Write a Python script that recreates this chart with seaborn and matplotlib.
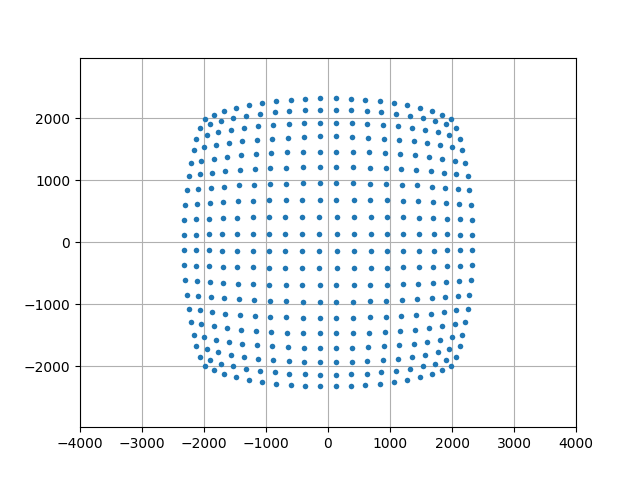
import matplotlib
matplotlib.use("Agg")
import matplotlib.pyplot as plt
import seaborn as sns
import numpy as np
import pandas as pd

# Top-right quadrant of the distorted 20x20 grid.
# Row i (1..10, from the centre upwards), column j (1..10, from the centre rightwards).
xq = [
    [138, 415, 690, 957, 1215, 1466, 1709, 1927, 2137, 2323],
    [138, 415, 688, 955, 1213, 1462, 1700, 1922, 2129, 2315],
    [137, 412, 684, 949, 1207, 1455, 1692, 1911, 2117, 2299],
    [136, 408, 680, 941, 1197, 1442, 1676, 1895, 2097, 2280],
    [135, 404, 672, 932, 1183, 1426, 1658, 1876, 2072, 2250],
    [134, 399, 664, 918, 1167, 1407, 1636, 1846, 2043, 2215],
    [132, 392, 650, 900, 1149, 1383, 1604, 1813, 2000, 2169],
    [130, 384, 636, 882, 1126, 1353, 1571, 1773, 1959, 2121],
    [127, 375, 622, 862, 1096, 1319, 1531, 1725, 1903, 2059],
    [123, 366, 603, 843, 1070, 1279, 1490, 1676, 1846, 1989],
]
yq = [
    [138, 138, 137, 136, 135, 134, 132, 130, 127, 123],
    [415, 415, 412, 408, 404, 399, 392, 384, 375, 366],
    [690, 688, 684, 680, 672, 664, 650, 636, 622, 603],
    [957, 955, 949, 941, 932, 918, 900, 882, 862, 843],
    [1215, 1213, 1207, 1197, 1183, 1167, 1149, 1126, 1096, 1070],
    [1466, 1462, 1455, 1442, 1426, 1407, 1383, 1353, 1319, 1279],
    [1709, 1700, 1692, 1676, 1658, 1636, 1604, 1571, 1531, 1490],
    [1927, 1922, 1911, 1895, 1876, 1846, 1813, 1773, 1725, 1676],
    [2137, 2129, 2117, 2097, 2072, 2043, 2000, 1959, 1903, 1846],
    [2323, 2315, 2299, 2280, 2250, 2215, 2169, 2121, 2059, 1989],
]

# the picture is symmetric in both axes: build the four quadrants
xa = np.array(xq, dtype=float).ravel()
ya = np.array(yq, dtype=float).ravel()
xs, ys = [], []
for sx, sy in [(1, 1), (-1, 1), (-1, -1), (1, -1)]:
    xs.append(sx * xa)
    ys.append(sy * ya)
df = pd.DataFrame({"x": np.concatenate(xs), "y": np.concatenate(ys)})

fig, ax = plt.subplots(figsize=(6.4, 4.8), dpi=100)
sns.scatterplot(data=df, x="x", y="y", ax=ax, color="#1f77b4", s=16,
                linewidth=0, marker="o", zorder=3)
ax.set_xlim(-4000, 4000)
ax.set_ylim(-2981, 2981)
ax.set_xticks([-4000, -3000, -2000, -1000, 0, 1000, 2000, 3000, 4000])
ax.set_yticks([-2000, -1000, 0, 1000, 2000])
ax.grid(True)
ax.set_axisbelow(True)
ax.set_xlabel("")
ax.set_ylabel("")
fig.savefig("out.png", dpi=100)
